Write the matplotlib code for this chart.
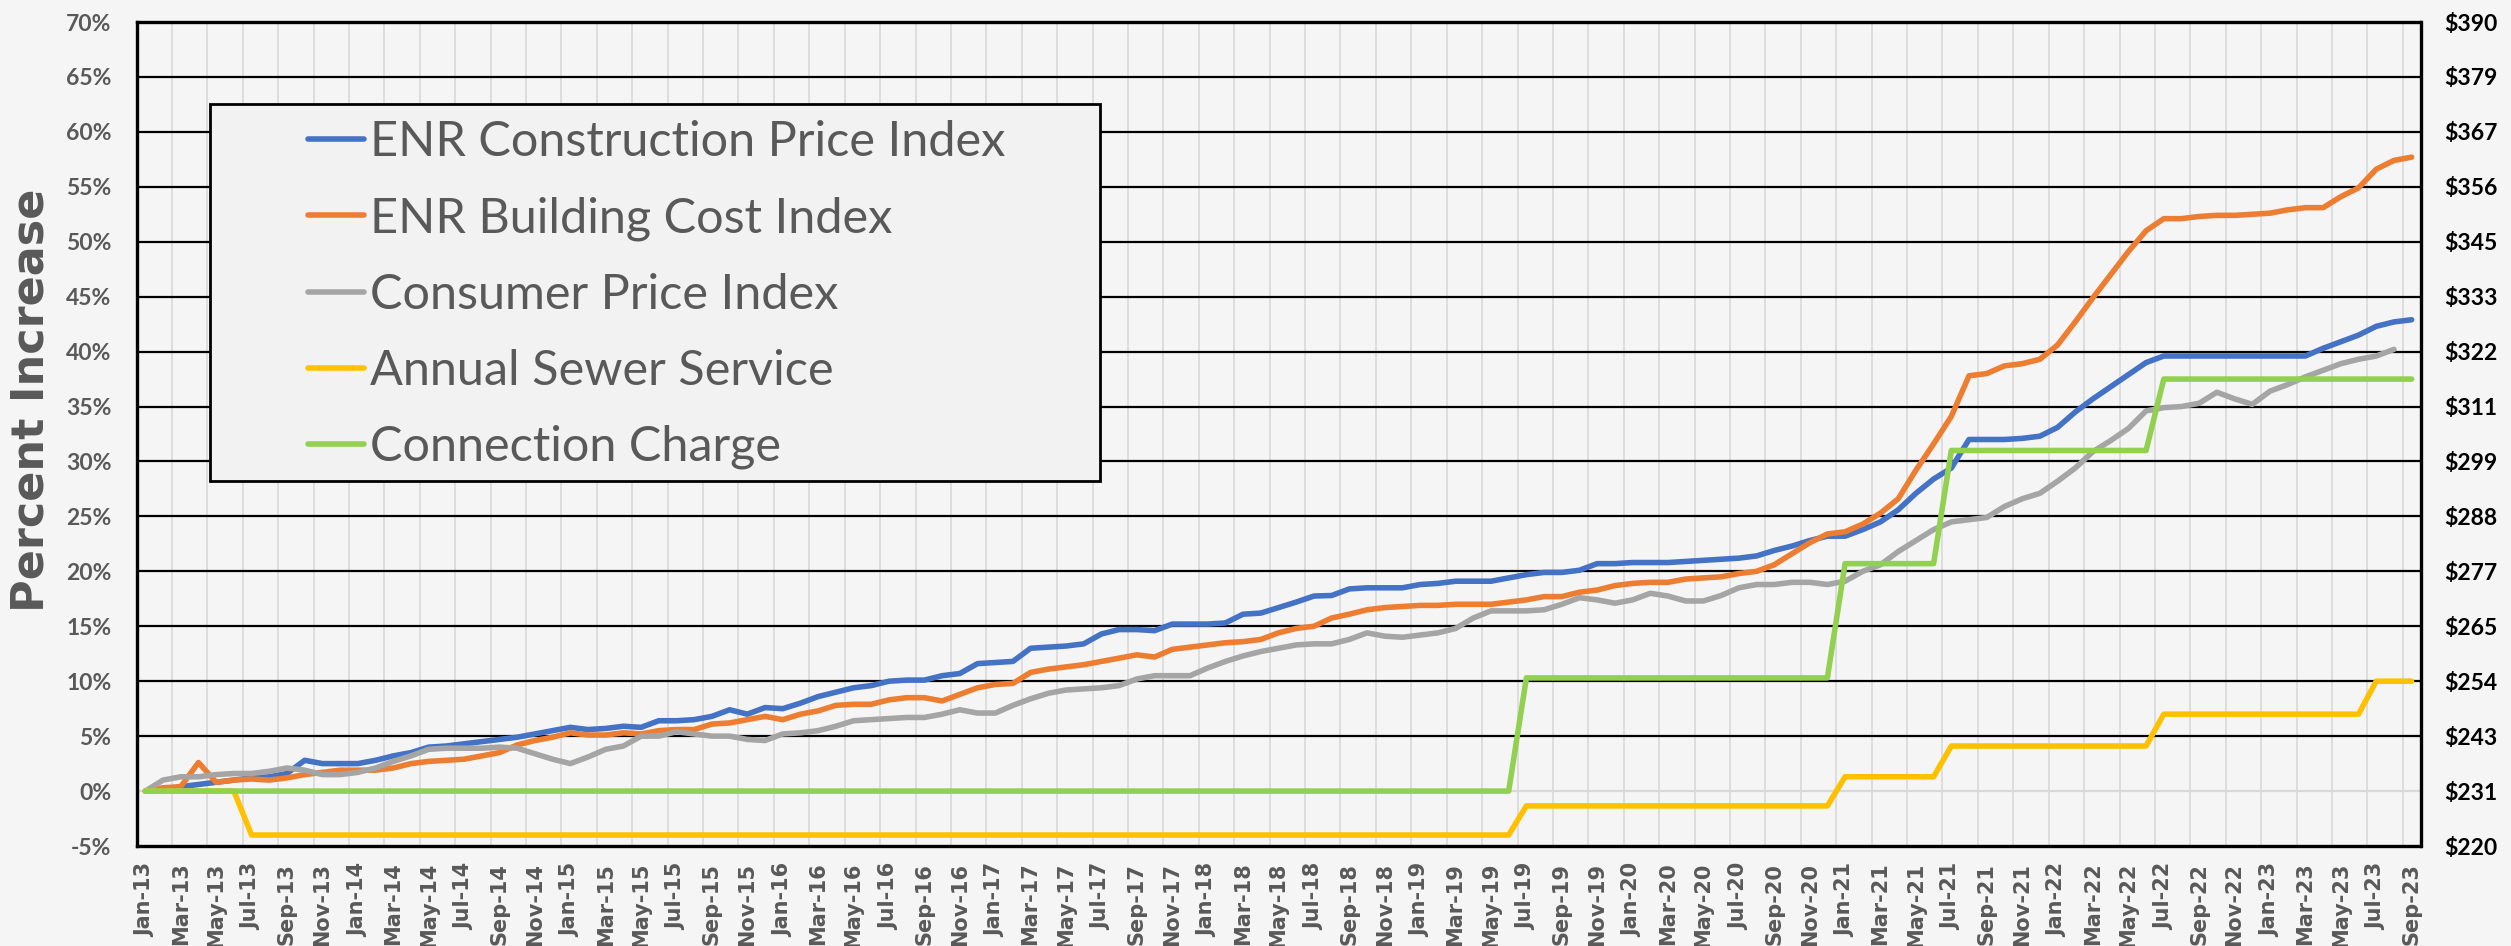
import numpy as np
import pandas as pd
import matplotlib
matplotlib.use('Agg')
import matplotlib.pyplot as plt
from matplotlib.patches import Rectangle
from matplotlib.ticker import FuncFormatter

# meses Jan-13 ... Sep-23
months = pd.date_range('2013-01-01', periods=129, freq='MS')
month_labels = [d.strftime('%b-%y') for d in months]

# % de aumento, un valor por mes
enr_cpi = [0.0, 0.1, 0.4, 0.6, 0.8, 1.0, 1.2, 1.3, 1.6, 2.8, 2.5, 2.5, 2.5, 2.8, 3.2, 3.5,
           4.0, 4.1, 4.3, 4.5, 4.7, 4.9, 5.2, 5.5, 5.8, 5.6, 5.7, 5.9, 5.8, 6.4, 6.4, 6.5,
           6.8, 7.4, 7.0, 7.6, 7.5, 8.0, 8.6, 9.0, 9.4, 9.6, 10.0, 10.1, 10.1, 10.5, 10.7, 11.6,
           11.7, 11.8, 13.0, 13.1, 13.2, 13.4, 14.3, 14.7, 14.7, 14.6, 15.2, 15.2, 15.2, 15.3, 16.1, 16.2,
           16.7, 17.2, 17.75, 17.8, 18.4, 18.5, 18.5, 18.5, 18.8, 18.9, 19.1, 19.1, 19.1, 19.4, 19.7, 19.9,
           19.9, 20.1, 20.7, 20.7, 20.8, 20.8, 20.8, 20.9, 21.0, 21.1, 21.2, 21.4, 21.9, 22.3, 22.8, 23.2,
           23.2, 23.8, 24.5, 25.6, 27.1, 28.4, 29.4, 32.0, 32.0, 32.0, 32.1, 32.3, 33.1, 34.5, 35.7, 36.8,
           37.9, 39.0, 39.6, 39.6, 39.6, 39.6, 39.6, 39.6, 39.6, 39.6, 39.6, 40.3, 40.9, 41.5, 42.3, 42.7,
           42.9]
enr_bci = [0.0, 0.3, 0.4, 2.6, 0.8, 1.0, 1.1, 1.0, 1.2, 1.5, 1.7, 1.9, 1.9, 1.9, 2.1, 2.5,
           2.7, 2.8, 2.9, 3.2, 3.5, 4.2, 4.6, 4.9, 5.3, 5.1, 5.1, 5.3, 5.2, 5.5, 5.6, 5.6,
           6.1, 6.2, 6.5, 6.8, 6.5, 7.0, 7.3, 7.8, 7.9, 7.9, 8.3, 8.5, 8.5, 8.2, 8.8, 9.4,
           9.7, 9.8, 10.8, 11.1, 11.3, 11.5, 11.8, 12.1, 12.4, 12.2, 12.9, 13.1, 13.3, 13.5, 13.6, 13.8,
           14.4, 14.8, 15.0, 15.75, 16.1, 16.5, 16.7, 16.8, 16.9, 16.9, 17.0, 17.0, 17.0, 17.2, 17.4, 17.7,
           17.7, 18.1, 18.3, 18.7, 18.9, 19.0, 19.0, 19.3, 19.4, 19.5, 19.8, 20.0, 20.6, 21.6, 22.6, 23.4,
           23.6, 24.3, 25.3, 26.6, 29.2, 31.6, 34.1, 37.8, 38.0, 38.7, 38.9, 39.3, 40.6, 42.7, 44.9, 47.0,
           49.1, 51.0, 52.1, 52.1, 52.3, 52.4, 52.4, 52.5, 52.6, 52.9, 53.1, 53.1, 54.1, 54.9, 56.6, 57.4,
           57.7]
cpi = [0.0, 1.0, 1.3, 1.3, 1.5, 1.6, 1.6, 1.8, 2.1, 1.9, 1.5, 1.5, 1.7, 2.1, 2.7, 3.2,
       3.8, 3.9, 3.9, 3.9, 4.0, 3.9, 3.4, 2.9, 2.5, 3.1, 3.8, 4.1, 5.0, 5.0, 5.4, 5.2,
       5.0, 5.0, 4.7, 4.6, 5.2, 5.3, 5.5, 5.9, 6.4, 6.5, 6.6, 6.7, 6.7, 7.0, 7.4, 7.1,
       7.1, 7.8, 8.4, 8.9, 9.2, 9.3, 9.4, 9.6, 10.2, 10.5, 10.5, 10.5, 11.2, 11.8, 12.3, 12.7,
       13.0, 13.3, 13.4, 13.4, 13.8, 14.4, 14.1, 14.0, 14.2, 14.4, 14.8, 15.75, 16.4, 16.4, 16.4, 16.5,
       17.0, 17.6, 17.4, 17.1, 17.4, 18.0, 17.75, 17.3, 17.3, 17.8, 18.5, 18.8, 18.8, 19.0, 19.0, 18.8,
       19.1, 20.0, 20.6, 21.8, 22.8, 23.8, 24.5, 24.7, 24.9, 25.9, 26.6, 27.1, 28.2, 29.4, 30.9, 31.9,
       33.0, 34.6, 34.9, 35.0, 35.3, 36.3, 35.7, 35.2, 36.4, 37.0, 37.7, 38.3, 38.9, 39.3, 39.6, 40.2,
       np.nan]
sewer = [0.0] * 6 + [-4.0] * 72 + [-1.35] * 18 + [1.3] * 6 + [4.1] * 12 + [7.0] * 12 + [10.0] * 3
connection = [0.0] * 78 + [10.3] * 18 + [20.7] * 6 + [31.0] * 12 + [37.5] * 15

series_names = ['ENR Construction Price Index', 'ENR Building Cost Index', 'Consumer Price Index',
                'Annual Sewer Service', 'Connection Charge']
series_colors = ['#4472C4', '#ED7D31', '#A5A5A5', '#FFC000', '#92D050']

pct_ticks = np.arange(-5, 71, 5)
dollar_lims = (220, 390)

W, H = 2511, 946
bg = '#F5F5F5'
txt_grey = '#595959'

fig = plt.figure(figsize=(W / 100, H / 100), dpi=100, facecolor=bg)
x0, x1, ytop, ybot = 136.5, 2420.5, 22, 846
ax = fig.add_axes([x0 / W, 1 - ybot / H, (x1 - x0) / W, (ybot - ytop) / H])
ax.set_facecolor(bg)

x = np.arange(len(months))
for vals, name, col in zip([enr_cpi, enr_bci, cpi, sewer, connection], series_names, series_colors):
    ax.plot(x, vals, color=col, lw=4.0, label=name, solid_capstyle='round',
            solid_joinstyle='round', zorder=3)

ax.set_xlim(-0.5, len(months) - 0.5)
ax.set_ylim(-5, 70)

# grilla: verticales grises cada 2 meses, horizontales negras
for b in np.arange(1.5, len(months) - 0.5, 2):
    ax.axvline(b, color='#D9D9D9', lw=1.2, zorder=1)
for p in pct_ticks[1:-1]:
    ax.axhline(p, color='#D9D9D9' if p == 0 else 'black', lw=1.6, zorder=1.5)

ax.set_xticks(x[::2])
ax.set_xticklabels(month_labels[::2], rotation=90, fontsize=15, fontweight='bold',
                   color=txt_grey, family='DejaVu Sans')
ax.set_yticks(pct_ticks)
ax.set_yticklabels([f'{p}%' for p in pct_ticks], fontsize=16.5, fontweight='bold',
                   color=txt_grey, family='Lato')
ax.tick_params(axis='x', length=0, pad=12)
ax.tick_params(axis='y', length=0, pad=18)
for s in ax.spines.values():
    s.set_color('black')
    s.set_linewidth(2.4)

ax2 = ax.twinx()
ax2.set_ylim(*dollar_lims)
ax2.set_yticks(np.linspace(dollar_lims[0], dollar_lims[1], len(pct_ticks)))
ax2.yaxis.set_major_formatter(FuncFormatter(lambda v, _: f'${v:.0f}'))
ax2.tick_params(axis='y', length=0, pad=17, labelsize=16.5, labelcolor='black')
for lab in ax2.get_yticklabels():
    lab.set_fontweight('bold')
    lab.set_family('Lato')
for s in ax2.spines.values():
    s.set_visible(False)

fig.text(31 / W, 1 - 400 / H, 'Percent Increase', rotation=90, fontsize=32, fontweight='bold',
         color=txt_grey, ha='center', va='center', family='DejaVu Sans')

# caja de la leyenda
fig.add_artist(Rectangle((210 / W, 1 - 481 / H), (1100 - 210) / W, (481 - 104) / H,
                         transform=fig.transFigure, facecolor='#F2F2F2', edgecolor='black',
                         lw=2, zorder=4))
handles, labels = ax.get_legend_handles_labels()
leg = fig.legend(handles, labels, loc='upper left', bbox_to_anchor=(308 / W, 1 - 120 / H),
                 bbox_transform=fig.transFigure, frameon=False, borderpad=0, borderaxespad=0,
                 handlelength=1.15, handletextpad=0.12, labelspacing=0.66,
                 prop={'family': 'Lato', 'size': 35}, labelcolor=txt_grey)
leg.set_zorder(5)

fig.savefig('out.png', dpi=100, facecolor=bg)
